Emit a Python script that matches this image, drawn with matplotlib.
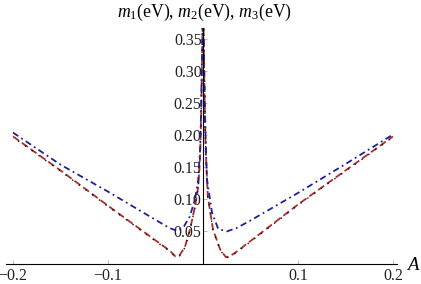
import matplotlib
matplotlib.use("Agg")
import matplotlib.pyplot as plt

plt.rcParams['font.family'] = ['Liberation Serif', 'DejaVu Serif']
plt.rcParams['mathtext.fontset'] = 'custom'
plt.rcParams['mathtext.rm'] = 'Liberation Serif'
plt.rcParams['mathtext.it'] = 'Liberation Serif:italic'

# Data
x_red = [-0.2, -0.15, -0.1, -0.05, -0.035, -0.029, -0.025, -0.019, -0.0137, -0.0084, -0.005, -0.003, -0.002, -0.001, -0.0004,
         0.0004, 0.001, 0.002, 0.003, 0.005, 0.0105, 0.018, 0.024, 0.028, 0.035, 0.05, 0.1, 0.15, 0.2]
m1 = [0.198, 0.145, 0.090, 0.036, 0.020, 0.011, 0.012, 0.026, 0.053, 0.089, 0.12, 0.17, 0.23, 0.32, 0.38,
      0.38, 0.32, 0.23, 0.17, 0.105, 0.053, 0.022, 0.010, 0.011, 0.018, 0.035, 0.092, 0.145, 0.198]
m2 = [0.197, 0.144, 0.089, 0.035, 0.019, 0.010, 0.011, 0.025, 0.052, 0.088, 0.119, 0.17, 0.23, 0.32, 0.38,
      0.38, 0.32, 0.23, 0.17, 0.104, 0.052, 0.021, 0.009, 0.010, 0.017, 0.034, 0.091, 0.144, 0.197]
x_blue = [-0.2, -0.15, -0.1, -0.05, -0.035, -0.027, -0.02, -0.014, -0.0084, -0.005, -0.003, -0.002, -0.001, -0.0004,
          0.0004, 0.001, 0.002, 0.003, 0.0042, 0.0095, 0.016, 0.025, 0.035, 0.05, 0.1, 0.15, 0.2]
m3 = [0.204, 0.154, 0.112, 0.068, 0.055, 0.051, 0.058, 0.073, 0.100, 0.131, 0.18, 0.24, 0.33, 0.38,
      0.38, 0.33, 0.24, 0.18, 0.131, 0.079, 0.054, 0.050, 0.055, 0.067, 0.110, 0.155, 0.201]

xticks = [-0.2, -0.1, 0.1, 0.2]
xticklabels = ['\u22120.2', '\u22120.1', '0.1', '0.2']
yticks = [0.05, 0.10, 0.15, 0.20, 0.25, 0.30, 0.35]
yticklabels = ['0.05', '0.10', '0.15', '0.20', '0.25', '0.30', '0.35']

fig = plt.figure(figsize=(4.21, 2.84), dpi=100)
ax = fig.add_axes([6/421, 1-263.5/284, 391/421, (263.5-28)/284])

ax.plot(x_red, m1, color='#b02a2a', lw=1.3, linestyle=(0, (4, 2)), clip_on=True)
ax.plot(x_red, m2, color='#111111', lw=1.0, linestyle=(1.5, (1, 5)), clip_on=True)
ax.plot(x_blue, m3, color='#1f1f99', lw=1.3, linestyle=(0, (3.5, 2, 1, 2)), clip_on=True)

ax.set_xlim(-0.2074, 0.2042)
ax.set_ylim(0, 0.367)

for s in ['top', 'right']:
    ax.spines[s].set_visible(False)
ax.spines['left'].set_position(('data', 0))
ax.spines['bottom'].set_position(('data', 0))
ax.spines['left'].set_linewidth(0.8)
ax.spines['bottom'].set_linewidth(0.8)

ax.set_xticks(xticks)
ax.set_xticklabels(xticklabels)
ax.set_yticks(yticks)
ax.set_yticklabels(yticklabels)
ax.tick_params(axis='both', direction='in', length=3, width=0.5, color='#999999',
               labelsize=11.5, pad=1, labelcolor='#222222')
ax.tick_params(axis='x', pad=3)

fig.text(204/421, 1-12/284, r'$m_1$(eV), $m_2$(eV), $m_3$(eV)', ha='center', va='center', fontsize=12.8)
fig.text(413/421, 1-265/284, r'$A$', ha='center', va='center', fontsize=13.5)

fig.savefig('out.png', dpi=100)
